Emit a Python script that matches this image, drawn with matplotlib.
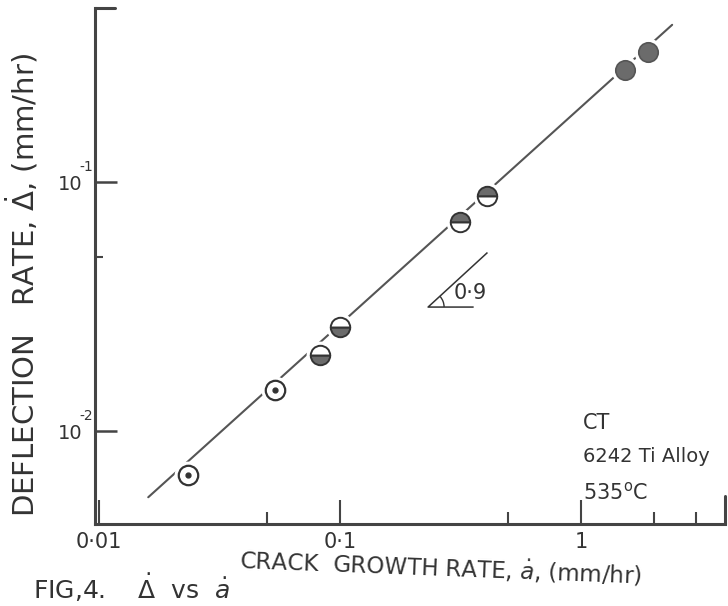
import matplotlib
matplotlib.use("Agg")
import matplotlib.pyplot as plt
from matplotlib.patches import Arc
from matplotlib.transforms import ScaledTranslation

# specimens: open circle with centre dot
dot_x = [0.0234, 0.0537]
dot_y = [0.00665, 0.0146]
# lower half shaded
low_x = [0.0826, 0.100]
low_y = [0.0202, 0.0262]
# upper half shaded
up_x = [0.315, 0.407]
up_y = [0.069, 0.0879]
# fully shaded
full_x = [1.52, 1.90]
full_y = [0.282, 0.333]

# fitted line
fit_x = [0.0160, 2.39]
fit_y = [0.00543, 0.428]

# slope triangle
tri_x = [0.356, 0.232, 0.407]
tri_y = [0.0315, 0.0315, 0.0519]
slope_label = "0·9"

xtick_vals = [0.01, 0.1, 1]
xtick_text = ["0·01", "0·1", "1"]
xminor_vals = [0.05, 0.5, 2, 3]
ytick_vals = [0.01, 0.1]
ytick_base = ["10", "10"]
ytick_exp = ["-2", "-1"]
yminor_vals = [0.05]

ink = "#333333"
frame = "#444444"
shade = "#6b6b6b"

plt.rcParams["font.family"] = ["DejaVu Sans"]
plt.rcParams["mathtext.fontset"] = "dejavusans"

W, H = 728, 606
fig = plt.figure(figsize=(W / 100, H / 100), dpi=100)
ax = fig.add_axes([95 / W, 1 - 524 / H, (725 - 95) / W, (524 - 8) / H])
ax.set_xscale("log")
ax.set_yscale("log")
ax.set_xlim(0.00962, 3.96)
ax.set_ylim(0.00424, 0.5)

ax.plot(fit_x, fit_y, color="#555555", lw=1.5, zorder=2, solid_capstyle="round")

# white halos so the line breaks around each symbol
for xs, ys in [(dot_x, dot_y), (low_x, low_y), (up_x, up_y), (full_x, full_y)]:
    ax.plot(xs, ys, "o", ms=19, mfc="white", mec="white", zorder=3)

ax.plot(dot_x, dot_y, "o", ms=14, mfc="white", mec=ink, mew=1.6, zorder=4)
ax.plot(dot_x, dot_y, "o", ms=3.5, mfc=ink, mec=ink, zorder=5)
ax.plot(low_x, low_y, "o", ms=14, fillstyle="bottom", mfc=shade,
        mfcalt="white", mec=ink, mew=1.4, zorder=4)
ax.plot(up_x, up_y, "o", ms=14, fillstyle="top", mfc=shade,
        mfcalt="white", mec=ink, mew=1.4, zorder=4)
ax.plot(full_x, full_y, "o", ms=14, mfc=shade, mec="#555555", mew=1.2, zorder=4)

ax.plot(tri_x, tri_y, color=ink, lw=1.1)
arc_pos = fig.dpi_scale_trans + ScaledTranslation(tri_x[1], tri_y[1], ax.transData)
ax.add_patch(Arc((0, 0), 0.32, 0.32, theta1=0, theta2=42, color=ink, lw=1.0,
                 transform=arc_pos))
fig.text(470 / W, 1 - 293 / H, slope_label, fontsize=15, color=ink,
         ha="center", va="center")

for side in ["top", "right"]:
    ax.spines[side].set_visible(False)
for side in ["left", "bottom"]:
    ax.spines[side].set_linewidth(2.2)
    ax.spines[side].set_color(frame)

# frame end marks
ax.plot([1, 1], [0, 0.054], transform=ax.transAxes, color=frame, lw=2.2,
        clip_on=False, solid_capstyle="round")
ax.plot([0, 0.032], [1, 1], transform=ax.transAxes, color=frame, lw=2.2,
        clip_on=False, solid_capstyle="round")

ax.set_xticks(xtick_vals)
ax.set_xticklabels(xtick_text)
ax.set_xticks(xminor_vals, minor=True)
ax.set_xticklabels([], minor=True)
ax.set_yticks(ytick_vals)
ax.set_yticklabels(ytick_base)
ax.set_yticks(yminor_vals, minor=True)
ax.set_yticklabels([], minor=True)
ax.tick_params(axis="x", which="major", direction="in", length=17, width=1.5,
               color=frame, labelsize=15, labelcolor=ink, pad=6)
ax.tick_params(axis="x", which="minor", direction="in", length=9, width=1.5,
               color=frame)
ax.tick_params(axis="y", which="major", direction="in", length=16, width=1.8,
               color=frame, labelsize=14, labelcolor=ink, pad=9)
ax.tick_params(axis="y", which="minor", direction="in", length=6, width=1.5,
               color=frame)

# exponents tucked over the last digit, as lettered on the original
for val, e in zip(ytick_vals, ytick_exp):
    ax.annotate(e, xy=(0, val), xycoords=("axes fraction", "data"),
                xytext=(-6.5, 11), textcoords="offset points",
                fontsize=10, color=ink, ha="center", va="center")

fig.text(22 / W, 1 - 285 / H, r"DEFLECTION   RATE, $\dot{\Delta}$, (mm/hr)",
         rotation=90, fontsize=21, color=ink, ha="center", va="center")
fig.text(441 / W, 1 - 568 / H, r"CRACK  GROWTH RATE, $\dot{a}$, (mm/hr)",
         rotation=-2.2, fontsize=16.5, color=ink, ha="center", va="center")
fig.text(33 / W, 1 - 588 / H, r"FIG,4.    $\dot{\Delta}$  vs  $\dot{a}$",
         fontsize=18, color=ink, ha="left", va="center")

fig.text(583 / W, 1 - 423 / H, "CT", fontsize=15, color=ink, va="center")
fig.text(583 / W, 1 - 457 / H, "6242 Ti Alloy", fontsize=14, color=ink, va="center")
fig.text(583 / W, 1 - 492 / H, "535$^{\\mathrm{o}}$C", fontsize=15, color=ink, va="center")

fig.savefig("out.png", dpi=100)
